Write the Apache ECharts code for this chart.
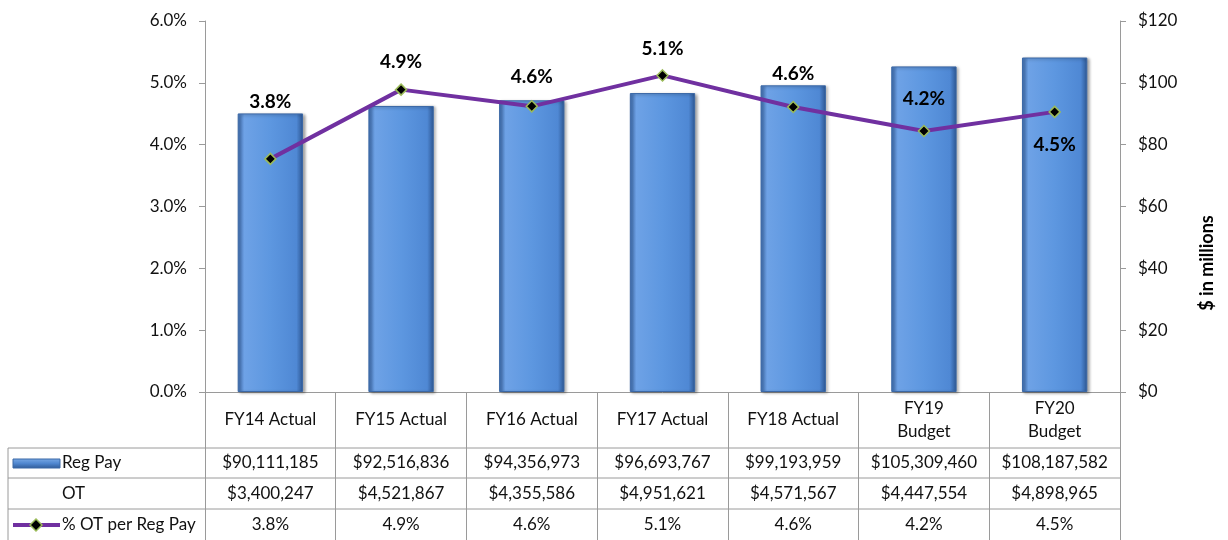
<!DOCTYPE html>
<html>
<head>
<meta charset="utf-8">
<style>
  html, body { margin: 0; padding: 0; background: #fff; }
  #chart { width: 1228px; height: 540px; }
</style>
<script src="https://cdn.jsdelivr.net/npm/echarts@6/dist/echarts.min.js"></script>
</head>
<body>
<div id="chart"></div>
<script>
  // data
  const categories = ['FY14 Actual', 'FY15 Actual', 'FY16 Actual', 'FY17 Actual', 'FY18 Actual', 'FY19\nBudget', 'FY20\nBudget'];
  const regPay = [90111185, 92516836, 94356973, 96693767, 99193959, 105309460, 108187582];
  const otPay = [3400247, 4521867, 4355586, 4951621, 4571567, 4447554, 4898965];
  const otPct = [3.77, 4.89, 4.62, 5.12, 4.61, 4.22, 4.53];
  const pctTicks = [0, 1, 2, 3, 4, 5, 6];
  const dollarTicks = [0, 20, 40, 60, 80, 100, 120];

  // label placement for the % line (style, not data)
  const labelPlace = [
    ['top', 41], ['top', 12], ['top', 14], ['top', 11], ['top', 17], ['top', 16], ['bottom', 17]
  ];

  const FONT = 'Lato';
  const FS = 17;
  const gridLine = '#9a9a9a';
  const money = v => '$' + v.toLocaleString('en-US');

  const chart = echarts.init(document.getElementById('chart'));

  const G = { left: 205, right: 108, top: 21, bottom: 148 };
  const tableRight = 1228 - G.right;

  function rowAxis(margin, fmt) {
    return {
      type: 'category',
      data: categories,
      position: 'bottom',
      axisLine: { show: false },
      axisTick: { show: false },
      axisLabel: {
        interval: 0,
        margin: margin,
        verticalAlign: 'middle',
        fontFamily: FONT,
        fontSize: FS,
        color: '#111',
        formatter: (v, i) => fmt(i)
      }
    };
  }

  chart.setOption({
    animation: false,
    grid: G,
    xAxis: [
      {
        type: 'category',
        data: categories,
        axisLine: { lineStyle: { color: gridLine, width: 1 } },
        axisTick: { show: true, interval: 0, length: 148, lineStyle: { color: gridLine } },
        axisLabel: {
          interval: 0,
          margin: 28,
          verticalAlign: 'middle',
          lineHeight: 23,
          fontFamily: FONT,
          fontSize: FS,
          color: '#111'
        }
      },
      rowAxis(71, i => money(regPay[i])),
      rowAxis(102, i => money(otPay[i])),
      rowAxis(133, i => otPct[i].toFixed(1) + '%')
    ],
    yAxis: [
      {
        type: 'value',
        position: 'left',
        min: pctTicks[0],
        max: pctTicks[pctTicks.length - 1],
        interval: 1,
        splitLine: { show: false },
        axisLine: { show: true, lineStyle: { color: gridLine } },
        axisTick: { show: true, length: 6, lineStyle: { color: gridLine } },
        axisLabel: {
          margin: 18,
          fontFamily: FONT,
          fontSize: FS,
          color: '#111',
          formatter: v => v.toFixed(1) + '%'
        }
      },
      {
        type: 'value',
        position: 'right',
        min: dollarTicks[0],
        max: dollarTicks[dollarTicks.length - 1],
        interval: 20,
        splitLine: { show: false },
        axisLine: { show: true, lineStyle: { color: gridLine } },
        axisTick: { show: true, length: 6, lineStyle: { color: gridLine } },
        axisLabel: {
          margin: 18,
          fontFamily: FONT,
          fontSize: FS,
          color: '#111',
          formatter: v => '$' + v
        }
      }
    ],
    series: [
      {
        name: 'Reg Pay',
        type: 'bar',
        yAxisIndex: 1,
        barWidth: '50%',
        data: regPay.map(v => v / 1e6),
        itemStyle: {
          color: new echarts.graphic.LinearGradient(0, 0, 1, 0, [
            { offset: 0, color: '#3d6cae' },
            { offset: 0.1, color: '#6ea2e6' },
            { offset: 0.5, color: '#5d97e0' },
            { offset: 0.9, color: '#4f88d4' },
            { offset: 1, color: '#2c5590' }
          ]),
          borderColor: '#3b68a6',
          borderWidth: 1,
          shadowBlur: 3,
          shadowOffsetX: 2,
          shadowOffsetY: 1,
          shadowColor: 'rgba(0,0,0,0.35)'
        }
      },
      {
        name: '% OT per Reg Pay',
        type: 'line',
        yAxisIndex: 0,
        z: 5,
        symbol: 'diamond',
        symbolSize: 11,
        lineStyle: { color: '#7030a0', width: 4 },
        itemStyle: { color: '#000', borderColor: '#9bbb59', borderWidth: 1.5 },
        data: otPct.map((v, i) => ({
          value: v,
          label: { position: labelPlace[i][0], distance: labelPlace[i][1] }
        })),
        label: {
          show: true,
          fontFamily: FONT,
          fontSize: 19,
          fontWeight: 'bold',
          color: '#000',
          formatter: p => p.value.toFixed(1) + '%'
        }
      }
    ],
    graphic: [
      // table horizontal rules and left border
      { type: 'line', shape: { x1: 8, y1: 448, x2: tableRight, y2: 448 }, style: { stroke: gridLine, lineWidth: 1 } },
      { type: 'line', shape: { x1: 8, y1: 478, x2: tableRight, y2: 478 }, style: { stroke: gridLine, lineWidth: 1 } },
      { type: 'line', shape: { x1: 8, y1: 509, x2: tableRight, y2: 509 }, style: { stroke: gridLine, lineWidth: 1 } },
      { type: 'line', shape: { x1: 8, y1: 448, x2: 8, y2: 540 }, style: { stroke: gridLine, lineWidth: 1 } },
      // row keys
      {
        type: 'rect', shape: { x: 13, y: 459, width: 47, height: 9 },
        style: {
          fill: new echarts.graphic.LinearGradient(0, 0, 0, 1, [
            { offset: 0, color: '#7aaae6' },
            { offset: 0.5, color: '#4f86cf' },
            { offset: 1, color: '#2f5a96' }
          ]),
          stroke: '#3b68a6', lineWidth: 1
        }
      },
      { type: 'text', x: 62, y: 463, style: { text: 'Reg Pay', font: FS + 'px ' + FONT, fill: '#111', verticalAlign: 'middle' } },
      { type: 'text', x: 62, y: 494, style: { text: 'OT', font: FS + 'px ' + FONT, fill: '#111', verticalAlign: 'middle' } },
      { type: 'line', shape: { x1: 13, y1: 525, x2: 60, y2: 525 }, style: { stroke: '#7030a0', lineWidth: 4 } },
      {
        type: 'polygon', shape: { points: [[36, 519], [42, 525], [36, 531], [30, 525]] },
        style: { fill: '#000', stroke: '#9bbb59', lineWidth: 1.5 }
      },
      { type: 'text', x: 62, y: 525, style: { text: '% OT per Reg Pay', font: FS + 'px ' + FONT, fill: '#111', verticalAlign: 'middle' } },
      // right axis title
      {
        type: 'text', x: 1207, y: 263, rotation: Math.PI / 2,
        style: { text: '$ in millions', font: 'bold 18px ' + FONT, fill: '#000', align: 'center', verticalAlign: 'middle' }
      }
    ]
  });
</script>
</body>
</html>
